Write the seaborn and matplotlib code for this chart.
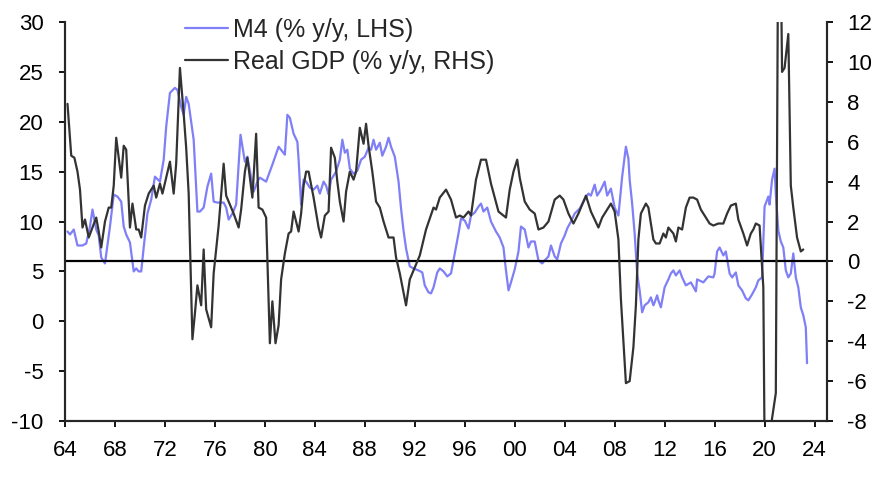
import numpy as np
import pandas as pd
import matplotlib
matplotlib.use("Agg")
import matplotlib.pyplot as plt
import seaborn as sns
from matplotlib.ticker import FuncFormatter, MultipleLocator

# M4 money growth, % y/y (left axis)
m4_year = [1964.2, 1964.4, 1964.7, 1965.0, 1965.4, 1965.7, 1966.0, 1966.2, 1966.5, 1966.7,
           1966.9, 1967.2, 1967.6, 1967.9, 1968.2, 1968.5, 1968.7, 1968.9, 1969.2, 1969.5,
           1969.7, 1969.9, 1970.1, 1970.3, 1970.6, 1970.9, 1971.2, 1971.6, 1971.9, 1972.1,
           1972.4, 1972.8, 1973.0, 1973.3, 1973.5, 1973.7, 1973.9, 1974.3, 1974.6, 1974.8,
           1975.1, 1975.4, 1975.7, 1975.9, 1976.2, 1976.7, 1976.9, 1977.1, 1977.4, 1977.7,
           1978.05, 1978.4, 1978.6, 1979.1, 1979.4, 1979.6, 1980.1, 1980.6, 1981.1, 1981.6,
           1981.8, 1982.0, 1982.3, 1982.6, 1982.7, 1982.9, 1983.1, 1983.3, 1983.6, 1983.9,
           1984.2, 1984.4, 1984.7, 1984.9, 1985.1, 1985.3, 1985.7, 1986.0, 1986.2, 1986.4,
           1986.6, 1986.8, 1987.1, 1987.4, 1987.7, 1988.0, 1988.3, 1988.5, 1988.7, 1988.9,
           1989.2, 1989.4, 1989.7, 1989.9, 1990.1, 1990.4, 1990.7, 1990.9, 1991.1, 1991.3,
           1991.6, 1991.9, 1992.3, 1992.6, 1992.8, 1993.1, 1993.3, 1993.5, 1993.8, 1994.0,
           1994.3, 1994.6, 1994.9, 1995.2, 1995.5, 1995.7, 1996.0, 1996.3, 1996.5, 1996.8,
           1997.1, 1997.3, 1997.5, 1997.8, 1998.1, 1998.5, 1998.8, 1999.1, 1999.3, 1999.5,
           1999.7, 2000.0, 2000.3, 2000.5, 2000.8, 2001.1, 2001.3, 2001.6, 2001.9, 2002.2,
           2002.4, 2002.7, 2002.9, 2003.2, 2003.4, 2003.7, 2004.0, 2004.2, 2004.5, 2004.8,
           2005.2, 2005.6, 2005.9, 2006.1, 2006.4, 2006.6, 2006.9, 2007.2, 2007.4, 2007.7,
           2008.0, 2008.3, 2008.6, 2008.9, 2009.1, 2009.2, 2009.4, 2009.6, 2009.8, 2010.0,
           2010.2, 2010.4, 2010.7, 2010.9, 2011.1, 2011.2, 2011.4, 2011.5, 2011.7, 2012.0,
           2012.3, 2012.5, 2012.7, 2012.9, 2013.2, 2013.4, 2013.7, 2014.1, 2014.5, 2014.6,
           2015.1, 2015.5, 2015.9, 2016.0, 2016.2, 2016.4, 2016.7, 2016.9, 2017.2, 2017.4,
           2017.7, 2017.9, 2018.2, 2018.5, 2018.7, 2019.0, 2019.3, 2019.5, 2019.8, 2020.0,
           2020.3, 2020.4, 2020.6, 2020.8, 2020.9, 2021.1, 2021.3, 2021.5, 2021.7, 2021.9,
           2022.1, 2022.3, 2022.5, 2022.7, 2022.8, 2022.9, 2023.1, 2023.3, 2023.4]
m4_val = [9.0, 8.7, 9.2, 7.6, 7.6, 7.8, 9.5, 11.2, 9.2, 8.6,
          6.4, 5.8, 9.5, 12.7, 12.5, 12.0, 9.5, 8.7, 7.9, 5.0,
          5.3, 5.0, 5.0, 7.4, 10.8, 12.2, 14.5, 14.0, 16.2, 19.5,
          22.9, 23.4, 23.2, 21.5, 20.7, 22.5, 21.8, 18.2, 11.0, 11.0,
          11.4, 13.5, 14.8, 12.0, 11.9, 11.9, 11.4, 10.2, 10.8, 11.7,
          18.7, 16.0, 16.5, 13.0, 14.0, 14.4, 14.0, 15.7, 17.5, 16.7,
          20.7, 20.4, 18.8, 18.0, 16.2, 11.7, 14.2, 14.0, 13.4, 13.2,
          13.6, 12.8, 14.0, 13.6, 12.7, 14.2, 15.0, 16.2, 18.2, 16.9,
          17.2, 15.3, 14.8, 15.1, 16.2, 16.5, 17.4, 17.2, 18.2, 17.2,
          17.9, 16.6, 17.5, 18.4, 17.5, 16.5, 14.0, 11.3, 9.1, 7.3,
          5.5, 5.3, 5.1, 4.9, 3.6, 2.9, 2.8, 3.4, 4.9, 5.3,
          5.0, 4.5, 4.8, 6.8, 8.8, 10.3, 10.1, 9.3, 10.6, 10.9,
          11.5, 11.8, 11.0, 11.4, 10.0, 9.0, 8.4, 7.4, 5.1, 3.1,
          3.9, 5.2, 7.0, 9.5, 9.2, 7.4, 8.0, 8.0, 6.1, 5.8,
          6.1, 6.5, 7.6, 6.5, 6.2, 7.8, 8.6, 9.3, 10.0, 10.8,
          11.3, 12.2, 12.8, 12.6, 13.7, 12.6, 13.2, 14.0, 12.6, 13.3,
          11.4, 10.6, 14.5, 17.5, 16.3, 14.2, 11.8, 8.8, 4.8, 3.1,
          0.9, 1.6, 1.9, 2.4, 1.6, 1.9, 2.6, 2.1, 1.4, 3.4,
          4.2, 4.8, 5.1, 4.6, 5.1, 4.4, 3.6, 3.9, 3.0, 4.2,
          3.9, 4.5, 4.4, 4.8, 7.0, 7.4, 6.6, 7.0, 4.8, 4.4,
          4.9, 3.6, 3.1, 2.3, 2.1, 2.7, 3.4, 4.1, 4.4, 11.5,
          12.5, 11.7, 14.2, 15.3, 12.8, 9.1, 8.0, 7.4, 5.1, 4.4,
          4.8, 6.8, 4.4, 3.4, 2.4, 1.4, 0.6, -0.6, -4.2]

# Real GDP, % y/y (right axis)
gdp_year = [1964.2, 1964.5, 1964.75, 1965.0, 1965.2, 1965.4, 1965.6, 1965.9, 1966.2, 1966.5,
            1966.7, 1966.9, 1967.2, 1967.5, 1967.7, 1967.9, 1968.1, 1968.5, 1968.7, 1968.9,
            1969.2, 1969.4, 1969.7, 1969.9, 1970.1, 1970.4, 1970.7, 1971.1, 1971.3, 1971.6,
            1971.8, 1972.4, 1972.7, 1972.9, 1973.2, 1973.5, 1973.7, 1973.9, 1974.2, 1974.4,
            1974.6, 1974.9, 1975.1, 1975.3, 1975.7, 1975.9, 1976.3, 1976.7, 1976.9, 1977.5,
            1977.9, 1978.1, 1978.4, 1978.6, 1979.0, 1979.3, 1979.5, 1979.8, 1980.1, 1980.4,
            1980.6, 1980.85, 1981.1, 1981.3, 1981.6, 1981.9, 1982.1, 1982.3, 1982.7, 1982.9,
            1983.1, 1983.3, 1983.5, 1983.9, 1984.3, 1984.5, 1984.8, 1985.1, 1985.3, 1985.6,
            1985.8, 1986.0, 1986.3, 1986.5, 1986.8, 1987.1, 1987.3, 1987.6, 1987.9, 1988.1,
            1988.3, 1988.6, 1988.9, 1989.2, 1989.5, 1989.9, 1990.3, 1990.5, 1990.8, 1991.3,
            1991.6, 1992.0, 1992.4, 1992.9, 1993.5, 1993.7, 1994.0, 1994.5, 1994.9, 1995.3,
            1995.6, 1995.9, 1996.3, 1996.5, 1996.9, 1997.3, 1997.7, 1998.1, 1998.7, 1999.3,
            1999.6, 1999.9, 2000.2, 2000.4, 2000.8, 2001.2, 2001.6, 2001.9, 2002.3, 2002.7,
            2003.2, 2003.6, 2003.9, 2004.3, 2004.7, 2005.1, 2005.7, 2006.1, 2006.7, 2007.0,
            2007.7, 2008.0, 2008.3, 2008.5, 2008.9, 2009.2, 2009.5, 2009.7, 2009.9, 2010.1,
            2010.5, 2010.7, 2011.1, 2011.3, 2011.6, 2011.9, 2012.1, 2012.3, 2012.7, 2012.9,
            2013.1, 2013.4, 2013.7, 2014.0, 2014.3, 2014.6, 2014.9, 2015.2, 2015.6, 2015.9,
            2016.3, 2016.7, 2017.0, 2017.3, 2017.7, 2017.9, 2018.3, 2018.6, 2018.9, 2019.1,
            2019.3, 2019.6, 2019.9, 2020.15, 2020.45, 2020.9, 2021.15, 2021.4, 2021.6, 2021.9,
            2022.1, 2022.3, 2022.6, 2022.9, 2023.1]
gdp_val = [7.9, 5.3, 5.2, 4.5, 3.6, 1.7, 2.1, 1.2, 1.7, 2.2,
           1.5, 0.7, 2.0, 2.7, 2.7, 3.8, 6.2, 4.2, 5.8, 5.6,
           1.7, 2.9, 1.6, 1.6, 1.2, 2.8, 3.4, 3.8, 3.2, 3.9,
           3.4, 5.0, 3.4, 4.9, 9.7, 7.4, 5.7, 3.4, -3.9, -2.6,
           -1.2, -2.2, 0.6, -2.4, -3.3, -0.6, 1.8, 4.9, 3.3, 2.4,
           1.7, 2.6, 4.5, 5.2, 3.2, 6.4, 2.7, 2.6, 2.2, -4.1,
           -2.0, -4.1, -3.2, -0.9, 0.4, 1.4, 1.5, 2.5, 1.5, 2.4,
           3.8, 4.5, 4.5, 3.2, 1.7, 1.2, 2.3, 2.5, 5.7, 5.2,
           4.0, 3.0, 2.0, 3.5, 4.5, 4.1, 4.5, 6.7, 5.9, 6.9,
           5.8, 4.5, 3.0, 2.7, 2.0, 1.2, 1.2, 0.2, -0.6, -2.2,
           -0.9, -0.3, 0.3, 1.6, 2.7, 2.6, 3.2, 3.6, 3.1, 2.2,
           2.3, 2.2, 2.5, 2.3, 4.1, 5.1, 5.1, 3.9, 2.5, 2.2,
           3.6, 4.5, 5.1, 4.2, 3.0, 2.6, 2.4, 1.6, 1.7, 2.0,
           3.1, 3.3, 3.1, 2.4, 1.9, 2.4, 3.3, 2.5, 1.7, 2.2,
           2.9, 2.5, 1.1, -1.9, -6.1, -6.0, -4.3, -2.2, 1.1, 2.4,
           2.9, 2.7, 1.1, 0.9, 0.9, 1.4, 1.2, 1.7, 1.4, 1.0,
           1.7, 1.6, 2.7, 3.2, 3.2, 3.1, 2.6, 2.3, 1.9, 1.8,
           1.9, 1.9, 2.4, 2.8, 2.9, 2.1, 1.4, 0.8, 1.4, 1.6,
           1.9, 1.8, -1.3, -21.0, -8.5, -6.6, 24.0, 9.5, 9.7, 11.4,
           3.8, 2.7, 1.2, 0.5, 0.6]

m4 = pd.DataFrame({"year": m4_year, "value": m4_val})
gdp = pd.DataFrame({"year": gdp_year, "value": gdp_val})

sns.set_style("ticks")
plt.rcParams["font.family"] = ["Liberation Sans", "DejaVu Sans"]
plt.rcParams["font.size"] = 16
plt.rcParams["axes.unicode_minus"] = False

fig = plt.figure(figsize=(8.76, 4.79), dpi=100)
ax = fig.add_axes([0.0742, 0.121, 0.8699, 0.833])
ax2 = ax.twinx()

sns.lineplot(data=m4, x="year", y="value", ax=ax, color="#7f7ff7", lw=1.6,
             label="M4 (% y/y, LHS)", legend=False)
sns.lineplot(data=gdp, x="year", y="value", ax=ax2, color="#333333", lw=1.6,
             label="Real GDP (% y/y, RHS)", legend=False)
ax2.axhline(0, color="black", lw=1.6, zorder=1)

ax.set_xlim(1964, 2025)
ax.set_ylim(-10, 30)
ax2.set_ylim(-8, 12)
ax.xaxis.set_major_locator(MultipleLocator(4))
ax.xaxis.set_major_formatter(FuncFormatter(lambda v, p: "%02d" % (int(round(v)) % 100)))
ax.yaxis.set_major_locator(MultipleLocator(5))
ax2.yaxis.set_major_locator(MultipleLocator(2))
ax.set_xlabel("")
ax.set_ylabel("")
ax2.set_ylabel("")

for a in (ax, ax2):
    a.spines["top"].set_visible(False)
    for s in a.spines.values():
        s.set_linewidth(1.5)
    a.tick_params(length=4.5, width=1.3, labelsize=16, colors="black")
ax.tick_params(axis="y", pad=11)
ax.tick_params(axis="x", pad=9)
ax2.tick_params(axis="y", pad=10)

h1, l1 = ax.get_legend_handles_labels()
h2, l2 = ax2.get_legend_handles_labels()
ax2.legend(h1 + h2, l1 + l2, loc="upper left", bbox_to_anchor=(0.157, 1.01),
           frameon=False, fontsize=18, handlelength=1.75, handletextpad=0.2,
           borderaxespad=0, borderpad=0, labelspacing=0.32)

fig.savefig("out.png", dpi=100)
